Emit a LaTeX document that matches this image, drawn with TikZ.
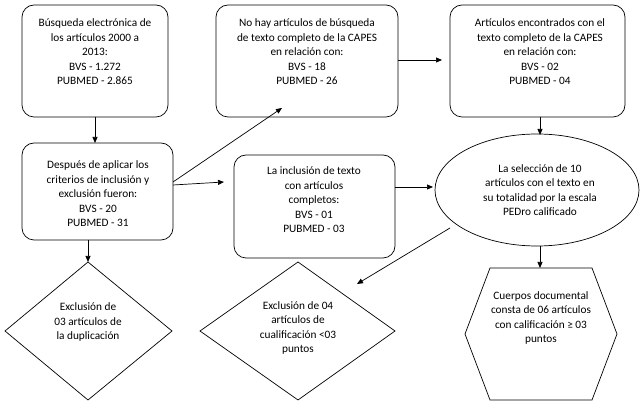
\documentclass[tikz,border=0pt]{standalone}
\usepackage{fontspec}
\setmainfont{Carlito}
\usetikzlibrary{arrows.meta,shapes.geometric}
\begin{document}
\begin{tikzpicture}[x=1pt,y=-1pt,
  bx/.style={draw,rounded corners=12pt,line width=0.7pt},
  tx/.style={align=center,font=\fontsize{11.3}{14.5}\selectfont,inner sep=0pt},
  ar/.style={-{Triangle[length=6pt,width=5pt]},line width=0.7pt}]
\useasboundingbox (0,0) rectangle (641,411);
\draw[bx] (22,5) rectangle (168,117);
\node[tx] (a) at (95,52) {Búsqueda electrónica de\\los artículos  2000 a\\2013:\\BVS - 1.272\\PUBMED -  2.865};
\coordinate (ab) at (95,117);
\draw[bx] (216,5) rectangle (398,117);
\node[tx] (b) at (307,52) {No hay artículos de búsqueda\\de texto completo de la CAPES\\en relación con:\\BVS - 18\\PUBMED - 26};
\coordinate (bl) at (282,108);
\coordinate (br) at (398,60);
\draw[bx] (450,5) rectangle (625,117);
\node[tx] (c) at (540,52) {Artículos encontrados con el\\texto completo de la CAPES\\en  relación con:\\BVS - 02\\PUBMED - 04};
\coordinate (cl) at (442,60);
\coordinate (cb) at (540,117);
\draw[bx] (22,143) rectangle (173,240);
\node[tx] (d) at (98,194) {Después de aplicar los\\criterios de inclusión y\\exclusión fueron:\\BVS - 20\\PUBMED -  31};
\coordinate (dt) at (95,143);
\coordinate (dr) at (173,182);
\coordinate (dr2) at (173,185);
\coordinate (db) at (88,240);
\draw[bx] (234,155) rectangle (395,258);
\node[tx] (e) at (314,200) {La inclusión de texto\\con artículos\\completos:\\BVS - 01\\PUBMED -  03};
\coordinate (el) at (224,182);
\coordinate (er) at (395,187);
\node[draw,ellipse,minimum width=204pt,minimum height=112pt,line width=0.7pt,inner sep=0pt] (f) at (537,190) {};
\node[tx] at (540,190) {La selección de 10\\artículos con el texto en\\su  totalidad por la escala\\PEDro calificado};
\coordinate (ft) at (540,135);
\coordinate (fl) at (433,187);
\coordinate (fs) at (450,228);
\coordinate (fb) at (540,246);
\draw[line width=0.7pt] (88,262) -- (172,331) -- (88,400) -- (5,331) -- cycle;
\node[tx] (g) at (88,322) {Exclusión de\\03 artículos de\\la  duplicación};
\coordinate (gt) at (88,262);
\draw[line width=0.7pt] (298,262) -- (395,331) -- (298,400) -- (200,331) -- cycle;
\node[tx] (h) at (298,328) {Exclusión de 04\\artículos  de\\cualificación <03\\puntos};
\coordinate (hr) at (357,284);
\draw[line width=0.7pt] (490,268) -- (592,268) -- (617,334) -- (592,400) -- (490,400) -- (465,334) -- cycle;
\node[tx] (i) at (541,318) {Cuerpos documental\\consta de 06 artículos\\con calificación ≥ 03\\puntos};
\coordinate (it) at (540,268);
\draw[ar] (ab) -- (dt);
\draw[ar] (dr) -- (bl);
\draw[ar] (dr2) -- (el);
\draw[ar] (br) -- (cl);
\draw[ar] (cb) -- (ft);
\draw[ar] (er) -- (fl);
\draw[ar] (db) -- (gt);
\draw[ar] (fs) -- (hr);
\draw[ar] (fb) -- (it);
\end{tikzpicture}
\end{document}
